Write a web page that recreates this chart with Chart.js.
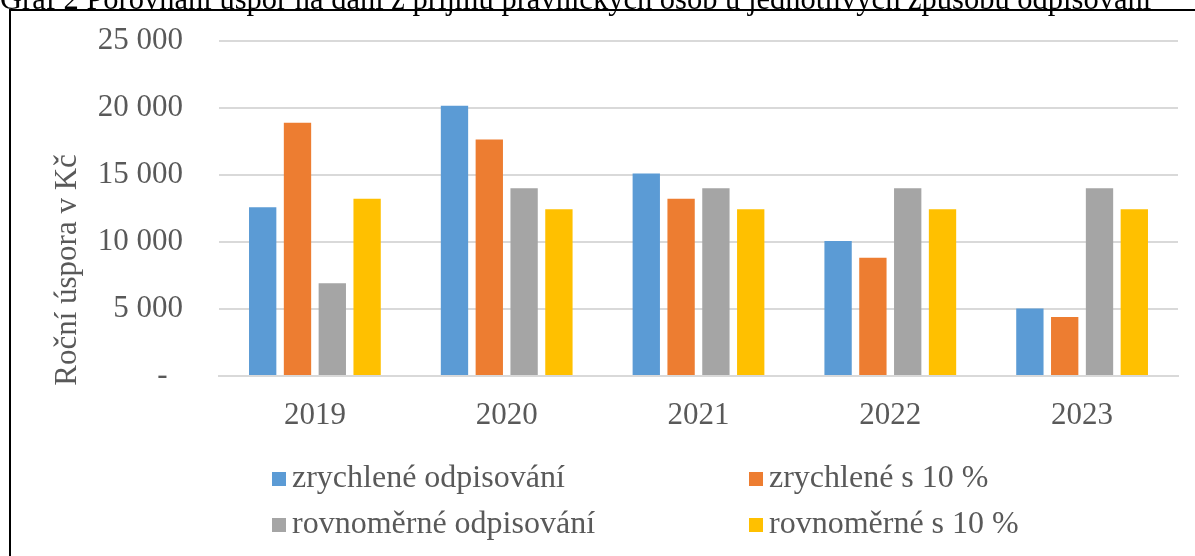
<!DOCTYPE html>
<html>
<head>
<meta charset="utf-8">
<script src="https://cdn.jsdelivr.net/npm/chart.js@4"></script>
<style>
  body { margin: 0; background: #fff; }
  #wrap { position: relative; width: 1195px; height: 556px; overflow: hidden; font-family: "Liberation Serif", "Times New Roman", serif; }
  #caption { position: absolute; left: 0; top: -16px; font-size: 30.5px; line-height: 30.5px; color: #000; white-space: nowrap; }
  #frame { position: absolute; left: 9px; top: 9px; width: 1200px; height: 560px; border-top: 2px solid #000; border-left: 2px solid #000; pointer-events: none; }
  #ytitle { position: absolute; left: 65px; top: 270px; transform: translate(-50%, -50%) rotate(-90deg); font-size: 31px; line-height: 31px; color: #595959; white-space: nowrap; }
  .legend-item { position: absolute; font-size: 32px; line-height: 32px; color: #595959; white-space: nowrap; }
  .legend-item span { display: inline-block; width: 14px; height: 14px; margin-right: 6px; vertical-align: 1px; }
</style>
</head>
<body>
<div id="wrap">
  <canvas id="chart" width="1195" height="556"></canvas>
  <div id="caption">Graf 2 Porovnání úspor na dani z příjmů právnických osob u jednotlivých způsobů odpisování</div>
  <div id="frame"></div>
  <div id="ytitle">Roční úspora v Kč</div>
  <div id="legend"></div>
</div>
<script>
// data (Kč per year)
const years = ['2019', '2020', '2021', '2022', '2023'];
const zrychlene = [12600, 20160, 15120, 10080, 5040];
const zrychlene10 = [18900, 17640, 13230, 8820, 4410];
const rovnomerne = [6930, 14018, 14018, 14018, 14018];
const rovnomerne10 = [13230, 12443, 12443, 12443, 12443];

const seriesNames = ['zrychlené odpisování', 'zrychlené s 10 %', 'rovnoměrné odpisování', 'rovnoměrné s 10 %'];
const seriesColors = ['#5B9BD5', '#ED7D31', '#A5A5A5', '#FFC000'];
const seriesValues = [zrychlene, zrychlene10, rovnomerne, rovnomerne10];

const gray = '#595959';
const font = { family: '"Liberation Serif", "Times New Roman", serif', size: 31 };

function formatKc(v) {
  if (v === 0) return '-  ';
  return String(v).replace(/\B(?=(\d{3})+(?!\d))/g, ' ');
}

const datasets = seriesNames.map((name, i) => ({
  label: name,
  data: seriesValues[i],
  backgroundColor: seriesColors[i],
  borderWidth: 0,
  categoryPercentage: 0.726,
  barPercentage: 0.785
}));

const ctx = document.getElementById('chart').getContext('2d');
const chart = new Chart(ctx, {
  type: 'bar',
  data: { labels: years, datasets: datasets },
  options: {
    responsive: false,
    animation: false,
    layout: { padding: { left: 0, right: 17, top: 41, bottom: 100 } },
    plugins: { legend: { display: false }, tooltip: { enabled: false } },
    scales: {
      x: {
        grid: { display: false },
        border: { color: '#d9d9d9', width: 2 },
        ticks: { color: gray, font: font, padding: 13 },
        afterFit: scale => { scale.height = 80; }
      },
      y: {
        min: 0,
        max: 25000,
        // invisible tick marks keep the labels away from the plot
        grid: { color: '#d9d9d9', lineWidth: 2, drawTicks: true, tickLength: 33, tickColor: 'rgba(0,0,0,0)' },
        border: { display: false },
        ticks: { stepSize: 5000, color: gray, font: font, padding: 3, callback: v => formatKc(v) },
        afterFit: scale => { scale.width = 219; }
      }
    }
  }
});

// legend in two columns like the original
const legendPos = [[272, 460], [749, 460], [272, 506], [749, 506]];
const legend = document.getElementById('legend');
chart.data.datasets.forEach((ds, i) => {
  const item = document.createElement('div');
  item.className = 'legend-item';
  item.style.left = legendPos[i][0] + 'px';
  item.style.top = legendPos[i][1] + 'px';
  item.innerHTML = '<span style="background:' + ds.backgroundColor + '"></span>' + ds.label;
  legend.appendChild(item);
});
</script>
</body>
</html>
